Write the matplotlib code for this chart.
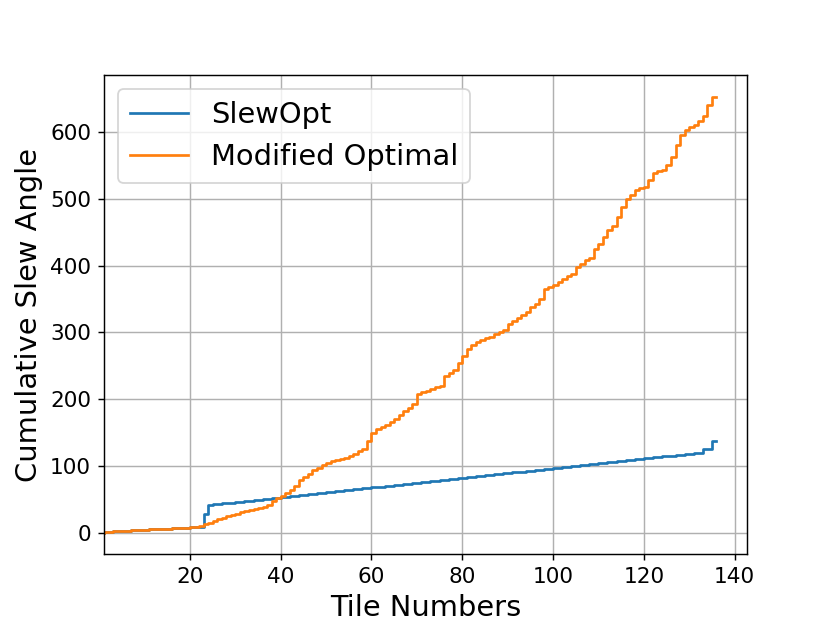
import numpy as np
import matplotlib
matplotlib.use("Agg")
import matplotlib.pyplot as plt

tiles = np.arange(1, 137)

# cumulative slew angle per tile
slewopt = [0.5, 1.8, 2.2, 2.6, 3.0, 3.3, 3.6, 4.0, 4.3, 4.6,
           4.9, 5.3, 5.6, 6.0, 6.3, 6.7, 7.0, 7.3, 7.6, 8.0,
           8.6, 9.0, 9.5, 28.0, 42.0, 42.7, 43.4, 44.2, 44.9, 45.6,
           46.3, 47.1, 47.8, 48.5, 49.2, 50.0, 50.7, 51.4, 52.1, 52.9,
           53.6, 54.3, 55.0, 55.8, 56.5, 57.2, 57.9, 58.7, 59.4, 60.1,
           60.8, 61.6, 62.3, 63.0, 63.7, 64.5, 65.2, 65.9, 66.6, 67.4,
           68.1, 68.8, 69.5, 70.3, 71.0, 71.7, 72.4, 73.2, 73.9, 74.6,
           75.3, 76.1, 76.8, 77.5, 78.2, 79.0, 79.7, 80.4, 81.1, 81.9,
           82.6, 83.3, 84.0, 84.8, 85.5, 86.2, 86.9, 87.7, 88.4, 89.1,
           89.8, 90.6, 91.3, 92.0, 92.7, 93.5, 94.2, 94.9, 95.6, 96.4,
           97.1, 97.8, 98.5, 99.3, 100.0, 100.7, 101.4, 102.2, 102.9, 103.6,
           104.3, 105.1, 105.8, 106.5, 107.2, 108.0, 108.7, 109.4, 110.1, 110.9,
           111.6, 112.3, 113.0, 113.8, 114.5, 115.2, 115.9, 116.7, 117.4, 118.1,
           118.8, 119.6, 120.3, 126.0, 126.0, 138.0]

modified = [0.5, 1.8, 2.2, 2.6, 3.0, 3.3, 3.6, 4.0, 4.3, 4.6,
            4.9, 5.3, 5.6, 6.0, 6.3, 6.7, 7.0, 7.3, 7.6, 8.0,
            8.6, 9.5, 11.0, 13.0, 15.5, 18.0, 20.5, 23.0, 25.0, 27.0,
            29.0, 31.5, 33.0, 34.5, 36.0, 37.0, 39.0, 42.0, 48.0, 52.0,
            56.0, 60.0, 64.0, 70.0, 79.0, 84.0, 89.0, 94.0, 98.0, 101.0,
            105.0, 107.0, 108.5, 110.5, 112.0, 115.0, 118.0, 122.0, 126.0, 138.0,
            150.0, 155.0, 158.0, 162.0, 166.0, 170.0, 176.0, 182.0, 187.0, 193.0,
            208.0, 211.0, 213.0, 216.0, 219.0, 220.5, 235.0, 240.0, 244.0, 255.0,
            265.0, 275.0, 281.0, 286.0, 289.0, 292.0, 294.0, 297.0, 300.0, 303.0,
            313.0, 317.0, 321.0, 326.0, 331.0, 338.0, 343.0, 350.0, 365.0, 368.0,
            371.0, 375.0, 380.0, 384.0, 388.0, 398.0, 403.0, 409.0, 411.0, 425.0,
            433.0, 443.0, 453.0, 460.0, 473.0, 488.0, 499.0, 506.0, 513.0, 516.0,
            518.0, 528.0, 538.0, 541.0, 543.0, 551.0, 563.0, 580.0, 595.0, 603.0,
            607.0, 611.0, 616.0, 624.0, 640.0, 653.0]

fig = plt.figure(figsize=(8.3 / 1.3, 6.23 / 1.3), dpi=130)
plt.step(tiles, slewopt, label="SlewOpt")
plt.step(tiles, modified, label="Modified Optimal")
plt.xlim(left=1)
plt.grid(True)
plt.xticks(fontsize=12)
plt.yticks(fontsize=12)
plt.xlabel("Tile Numbers", fontsize=16)
plt.ylabel("Cumulative Slew Angle", fontsize=16)
plt.legend(loc="upper left", fontsize=16)
plt.savefig("out.png", dpi=130)
